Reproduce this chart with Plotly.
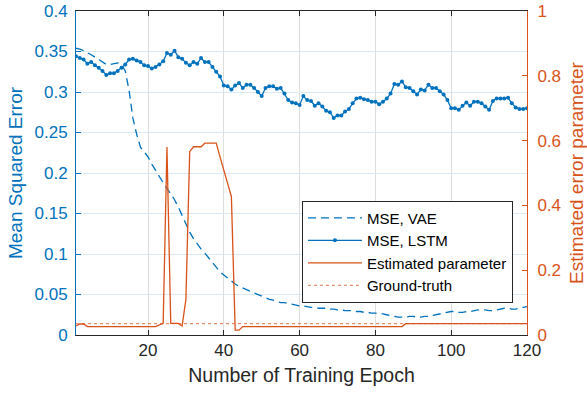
import plotly.graph_objects as go

epochs = list(range(1, 121))

mse_vae = [
    0.354, 0.353, 0.351, 0.349, 0.346, 0.343, 0.340, 0.336, 0.334, 0.334,
    0.335, 0.336, 0.334, 0.326, 0.302, 0.268, 0.248, 0.232, 0.226, 0.220,
    0.211, 0.203, 0.196, 0.188, 0.181, 0.174, 0.167, 0.158, 0.148, 0.136,
    0.127, 0.119, 0.112, 0.106, 0.101, 0.095, 0.089, 0.084, 0.078, 0.074,
    0.070, 0.066, 0.063, 0.060, 0.058, 0.056, 0.053, 0.051, 0.049, 0.047,
    0.046, 0.044, 0.043, 0.041, 0.040, 0.040, 0.039, 0.038, 0.037, 0.036,
    0.036, 0.035, 0.034, 0.034, 0.033, 0.033, 0.033, 0.032, 0.032, 0.031,
    0.031, 0.030, 0.030, 0.030, 0.029, 0.029, 0.028, 0.028, 0.027, 0.027,
    0.026, 0.026, 0.025, 0.024, 0.023, 0.022, 0.022, 0.022, 0.023, 0.023,
    0.022, 0.022, 0.023, 0.023, 0.024, 0.025, 0.026, 0.027, 0.028, 0.029,
    0.029, 0.028, 0.028, 0.029, 0.029, 0.030, 0.031, 0.031, 0.031, 0.030,
    0.030, 0.031, 0.032, 0.033, 0.033, 0.032, 0.032, 0.033, 0.034, 0.035,
]

mse_lstm = [
    0.344, 0.342, 0.340, 0.335, 0.337, 0.333, 0.330, 0.326, 0.321, 0.323,
    0.323, 0.326, 0.330, 0.334, 0.340, 0.341, 0.339, 0.337, 0.333, 0.332,
    0.329, 0.331, 0.334, 0.338, 0.348, 0.346, 0.351, 0.343, 0.341, 0.336,
    0.333, 0.337, 0.335, 0.342, 0.337, 0.337, 0.331, 0.325, 0.319, 0.308,
    0.307, 0.303, 0.308, 0.311, 0.305, 0.309, 0.309, 0.305, 0.300, 0.295,
    0.305, 0.307, 0.307, 0.304, 0.305, 0.298, 0.290, 0.287, 0.286, 0.284,
    0.295, 0.290, 0.289, 0.283, 0.286, 0.282, 0.277, 0.275, 0.268, 0.271,
    0.271, 0.276, 0.279, 0.286, 0.292, 0.293, 0.291, 0.290, 0.288, 0.288,
    0.285, 0.288, 0.292, 0.298, 0.310, 0.309, 0.313, 0.306, 0.305, 0.301,
    0.297, 0.303, 0.302, 0.309, 0.305, 0.305, 0.301, 0.297, 0.290, 0.280,
    0.280, 0.278, 0.283, 0.287, 0.283, 0.288, 0.288, 0.286, 0.282, 0.278,
    0.289, 0.292, 0.292, 0.292, 0.293, 0.286, 0.281, 0.279, 0.279, 0.280,
]

est_param = [
    0.028, 0.034, 0.034, 0.026, 0.026, 0.026, 0.026, 0.026, 0.026, 0.026,
    0.026, 0.026, 0.026, 0.026, 0.026, 0.026, 0.026, 0.026, 0.026, 0.026,
    0.026, 0.026, 0.031, 0.036, 0.580, 0.036, 0.036, 0.036, 0.028, 0.110,
    0.566, 0.581, 0.581, 0.581, 0.592, 0.592, 0.592, 0.592, 0.550, 0.509,
    0.468, 0.427, 0.015, 0.015, 0.026, 0.026, 0.026, 0.026, 0.026, 0.026,
    0.026, 0.026, 0.026, 0.026, 0.026, 0.026, 0.026, 0.026, 0.026, 0.026,
    0.026, 0.026, 0.026, 0.026, 0.026, 0.026, 0.026, 0.026, 0.026, 0.026,
    0.026, 0.026, 0.026, 0.026, 0.026, 0.026, 0.026, 0.026, 0.026, 0.026,
    0.026, 0.026, 0.026, 0.026, 0.026, 0.026, 0.026, 0.035, 0.035, 0.035,
    0.035, 0.035, 0.035, 0.035, 0.035, 0.035, 0.035, 0.035, 0.035, 0.035,
    0.035, 0.035, 0.035, 0.035, 0.035, 0.035, 0.035, 0.035, 0.035, 0.035,
    0.035, 0.035, 0.035, 0.035, 0.035, 0.035, 0.035, 0.035, 0.035, 0.035,
]

gt_epochs = [1, 120]
gt_values = [0.035, 0.035]

BLUE = "#0072BD"
ORANGE = "#D95319"
FONT = "Liberation Sans, Arial, Helvetica, sans-serif"

fig = go.Figure()
fig.add_trace(go.Scatter(x=epochs, y=mse_vae, mode="lines", name="MSE, VAE",
                         line=dict(color=BLUE, width=1.3, dash="8px,5px")))
fig.add_trace(go.Scatter(x=epochs, y=mse_lstm, mode="lines+markers", name="MSE, LSTM",
                         line=dict(color=BLUE, width=1.3),
                         marker=dict(color=BLUE, size=4)))
fig.add_trace(go.Scatter(x=epochs, y=est_param, mode="lines", name="Estimated parameter",
                         line=dict(color=ORANGE, width=1.3), yaxis="y2"))
fig.add_trace(go.Scatter(x=gt_epochs, y=gt_values, mode="lines", name="Ground-truth",
                         line=dict(color=ORANGE, width=1, dash="dot"), yaxis="y2",
                         opacity=0.8))

fig.update_layout(
    width=587, height=395,
    margin=dict(l=76, r=60, t=11, b=60),
    paper_bgcolor="white", plot_bgcolor="white",
    font=dict(family=FONT, size=17, color="#262626"),
    showlegend=True,
    legend=dict(x=0.501, y=0.415, xanchor="left", yanchor="top",
                bgcolor="white", bordercolor="#262626", borderwidth=1,
                font=dict(size=15, color="#000000"), tracegroupgap=0,
                itemwidth=54),
    xaxis=dict(range=[1, 120], tickvals=[20, 40, 60, 80, 100, 120],
               ticks="inside", ticklen=5, tickcolor="#262626",
               showline=True, linecolor="#262626", linewidth=1, mirror="ticks",
               showgrid=True, gridcolor="#DEDEDE", gridwidth=1, automargin=False,
               zeroline=False, tickfont=dict(size=17, color="#262626"),
               title=dict(text="Number of Training Epoch", font=dict(size=19.5, color="#262626"),
                          standoff=8)),
    yaxis=dict(range=[0, 0.4], dtick=0.05, tick0=0,
               ticks="inside", ticklen=5, tickcolor=BLUE,
               showline=True, linecolor=BLUE, linewidth=1, automargin=False,
               showgrid=True, gridcolor="#D9EAF5", gridwidth=1, zeroline=False,
               tickfont=dict(size=17, color=BLUE), ticklabelstandoff=4,
               title=dict(text="Mean Squared Error", font=dict(size=19, color=BLUE),
                          standoff=6)),
    yaxis2=dict(range=[0, 1], dtick=0.2, tick0=0, overlaying="y", side="right",
                ticks="inside", ticklen=5, tickcolor=ORANGE,
                showline=True, linecolor=ORANGE, linewidth=1, automargin=False,
                showgrid=False, zeroline=False,
                tickfont=dict(size=17, color=ORANGE), ticklabelstandoff=6,
                title=dict(text="Estimated error parameter", font=dict(size=19, color=ORANGE),
                           standoff=12)),
)

fig.write_html("out.html")
